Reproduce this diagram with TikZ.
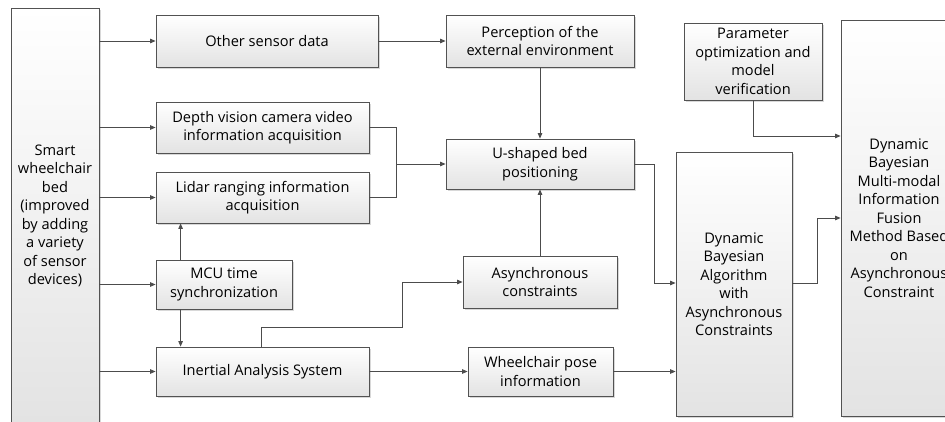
\documentclass[tikz,border=0pt]{standalone}
\usepackage{fontspec}
\setmainfont{Open Sans}
\usetikzlibrary{arrows.meta,shadows}
\begin{document}
\begin{tikzpicture}[x=1pt,y=-1pt,
  box/.style={draw=black!68, line width=0.8pt, top color=white, bottom color=black!11,
    drop shadow={shadow xshift=1.6pt, shadow yshift=-1.6pt, fill=black!30, opacity=0.5},
    align=center, inner sep=0pt, font=\fontsize{14.6}{18.5}\selectfont},
  arr/.style={draw=black!70, line width=0.8pt, -{Triangle[length=5.5pt,width=4.5pt]}},
  ln/.style={draw=black!70, line width=0.8pt}]
\useasboundingbox (0,0) rectangle (945,422);
\clip (0,0) rectangle (945,422);
% nodes
\node[box, minimum width=88pt, minimum height=416pt] (left) at (55,216)
  {Smart\\wheelchair\\bed\\(improved\\by adding\\a variety\\of sensor\\devices)};
\node[box, minimum width=222pt, minimum height=52pt] (other) at (267,41) {Other sensor data};
\node[box, minimum width=213pt, minimum height=51pt] (depth) at (262.5,127.5)
  {Depth vision camera video\\information acquisition};
\node[box, minimum width=213pt, minimum height=51pt] (lidar) at (262.5,197.5)
  {Lidar ranging information\\acquisition};
\node[box, minimum width=136pt, minimum height=49pt] (mcu) at (224,284.5)
  {MCU time\\synchronization};
\node[box, minimum width=213pt, minimum height=49pt] (ins) at (262.5,371.5)
  {Inertial Analysis System};
\node[box, minimum width=188pt, minimum height=52pt] (percep) at (540,41)
  {Perception of the\\external environment};
\node[box, minimum width=188pt, minimum height=50pt] (ushape) at (540,164)
  {U-shaped bed\\positioning};
\node[box, minimum width=154pt, minimum height=52pt] (async) at (540,282)
  {Asynchronous\\constraints};
\node[box, minimum width=145pt, minimum height=49pt] (pose) at (540.5,371.5)
  {Wheelchair pose\\information};
\node[box, minimum width=138pt, minimum height=77pt] (param) at (753,61.5)
  {Parameter\\optimization and\\model\\verification};
\node[box, minimum width=116pt, minimum height=264pt] (dba) at (734,284)
  {Dynamic\\Bayesian\\Algorithm\\with\\Asynchronous\\Constraints};
\node[box, minimum width=116pt, minimum height=396pt] (fusion) at (899,218)
  {Dynamic\\Bayesian\\Multi-modal\\Information\\Fusion\\Method Based\\on\\Asynchronous\\Constraint};
% helper coordinates
\coordinate (m1) at (396,164);
\coordinate (c1) at (402,327);
\coordinate (c2) at (654,283);
\coordinate (c3) at (817,218);
\coordinate (c4) at (753,136);
% connectors
\draw[arr] (left.east |- other.west) -- (other.west);
\draw[arr] (left.east |- depth.west) -- (depth.west);
\draw[arr] (left.east |- lidar.west) -- (lidar.west);
\draw[arr] (left.east |- mcu.west) -- (mcu.west);
\draw[arr] (left.east |- ins.west) -- (ins.west);
\draw[arr] (other.east) -- (other.east -| percep.west);
\draw[arr] (percep.south) -- (ushape.north);
\draw[ln] (depth.east) -| (m1);
\draw[ln] (lidar.east) -| (m1);
\draw[arr] (m1) -- (ushape.west);
\draw[arr] ([xshift=25pt]mcu.north west) -- ([xshift=25pt]mcu.north west |- lidar.south);
\draw[arr] ([xshift=25pt]mcu.south west) -- ([xshift=25pt]mcu.south west |- ins.north);
\draw[arr] ([xshift=106pt]ins.north west) |- (c1) |- (async.west);
\draw[arr] (async.north) -- (async.north |- ushape.south);
\draw[arr] (ins.east) -- (pose.west);
\draw[arr] (pose.east) -- (pose.east -| dba.west);
\draw[arr] (ushape.east) -| (c2) -- (c2 -| dba.west);
\draw[arr] (dba.east |- c2) -| (c3) -- (c3 -| fusion.west);
\draw[arr] (param.south) -- (c4) -- (c4 -| fusion.west);
\end{tikzpicture}
\end{document}
